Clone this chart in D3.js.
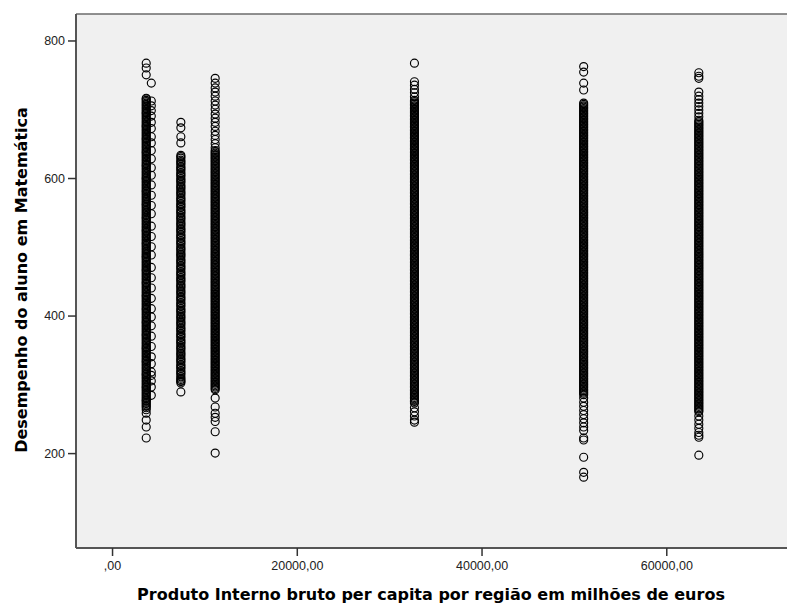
<!DOCTYPE html>
<html>
<head>
<meta charset="utf-8">
<script src="https://cdn.jsdelivr.net/npm/d3@7"></script>
<style>
  html, body { margin: 0; padding: 0; background: #ffffff; }
  svg { display: block; }
</style>
</head>
<body>
<svg id="chart" width="787" height="608"></svg>
<script>
// ---------- DATA ----------
const xTickValues = [0, 20000, 40000, 60000];
const xTickLabels = [",00", "20000,00", "40000,00", "60000,00"];
const yTickValues = [200, 400, 600, 800];
const yTickLabels = ["200", "400", "600", "800"];

const xTitle = "Produto Interno bruto per capita por região em milhões de euros";
const yTitle = "Desempenho do aluno em Matemática";

// Maths scores observed in each regional group (y values)
const scoresRegion1 = [767,760,750,716,713,709,705,701,697,694,690,686,682,678,675,671,667,663,659,656,652,648,644,640,637,633,629,625,621,618,614,610,606,602,599,595,591,587,583,580,576,572,568,564,561,557,553,549,545,542,538,534,530,526,523,519,515,511,507,504,500,496,492,488,485,481,477,473,469,466,462,458,454,450,447,443,439,435,431,428,424,420,416,412,409,405,401,397,393,390,386,382,378,374,371,367,363,359,355,352,348,344,340,336,333,329,325,321,317,314,310,306,302,298,295,291,287,283,279,276,272,268,263,258,248,238,222];
const scoresRegion1b = [715,711,707,703,699,695,692,688,684,680,676,673,669,665,661,657,654,650,646,642,638,635,631,627,623,619,616,612,608,604,600,597,593,589,585,581,578,574,570,566,562,559,555,551,547,543,540,536,532,528,524,521,517,513,509,505,502,498,494,490,486,483,479,475,471,467,464,460,456,452,448,445,441,437,433,429,426,422,418,414,410,407,403,399,395,391,388,384,380,376,372,369,365,361,357,353,350,346,342,338,334,331,327,323,319,315,312,308,304,300,296,293,289,285,281,277,274,270,266];
const scoresRegion2 = [738,712,705,698,690,681,672,660,651,640,628,615,604,590,575,560,548,530,515,500,488,470,455,440,425,410,398,385,370,355,340,330,318,313,305,296,284];
const scoresRegion3 = [681,673,660,651,633,629,624,620,615,611,606,602,597,593,588,584,579,575,570,566,561,557,552,548,543,539,534,530,525,521,516,512,507,503,498,494,489,485,480,476,471,467,462,458,453,449,444,440,435,431,426,422,417,413,408,404,399,395,390,386,381,377,372,368,363,359,354,350,345,341,336,332,327,323,318,314,309,305,302,289];
const scoresRegion3b = [631,626,622,617,613,608,604,599,595,590,586,581,577,572,568,563,559,554,550,545,541,536,532,527,523,518,514,509,505,500,496,491,487,482,478,473,469,464,460,455,451,446,442,437,433,428,424,419,415,410,406,401,397,392,388,383,379,374,370,365,361,356,352,347,343,338,334,329,325,320,316,311,307,304];
const scoresRegion4 = [745,738,731,725,719,712,706,700,693,687,681,675,668,662,656,650,644,640,636,632,628,624,620,616,612,608,604,600,596,592,588,584,580,576,572,568,564,560,556,552,548,544,540,536,532,528,524,520,516,512,508,504,500,496,492,488,484,480,476,472,468,464,460,456,452,448,444,440,436,432,428,424,420,416,412,408,404,400,396,392,388,384,380,376,372,368,364,360,356,352,348,344,340,336,332,328,324,320,316,312,308,304,300,296,292,280,267,258,252,246,231,200];
const scoresRegion4b = [638,634,630,626,622,618,614,610,606,602,598,594,590,586,582,578,574,570,566,562,558,554,550,546,542,538,534,530,526,522,518,514,510,506,502,498,494,490,486,482,478,474,470,466,462,458,454,450,446,442,438,434,430,426,422,418,414,410,406,402,398,394,390,386,382,378,374,370,366,362,358,354,350,346,342,338,334,330,326,322,318,314,310,306,302,298,294];
const scoresRegion5 = [767,740,735,729,724,718,713,709,705,701,697,693,689,685,681,677,673,669,665,661,657,653,649,645,641,637,633,629,625,621,617,613,609,605,601,597,593,589,585,581,577,573,569,565,561,557,553,549,545,541,537,533,529,525,521,517,513,509,505,501,497,493,489,485,481,477,473,469,465,461,457,453,449,445,441,437,433,429,425,421,417,413,409,405,401,397,393,389,385,381,377,373,369,365,361,357,353,349,345,341,337,333,329,325,321,317,313,309,305,301,297,293,289,285,281,277,273,266,260,254,248,245];
const scoresRegion5b = [711,707,703,699,695,691,687,683,679,675,671,667,663,659,655,651,647,643,639,635,631,627,623,619,615,611,607,603,599,595,591,587,583,579,575,571,567,563,559,555,551,547,543,539,535,531,527,523,519,515,511,507,503,499,495,491,487,483,479,475,471,467,463,459,455,451,447,443,439,435,431,427,423,419,415,411,407,403,399,395,391,387,383,379,375,371,367,363,359,355,351,347,343,339,335,331,327,323,319,315,311,307,303,299,295,291,287,283,279,275];
const scoresRegion6 = [762,754,738,728,709,705,701,697,693,689,685,681,677,673,669,665,661,657,653,649,645,641,637,633,629,625,621,617,613,609,605,601,597,593,589,585,581,577,573,569,565,561,557,553,549,545,541,537,533,529,525,521,517,513,509,505,501,497,493,489,485,481,477,473,469,465,461,457,453,449,445,441,437,433,429,425,421,417,413,409,405,401,397,393,389,385,381,377,373,369,365,361,357,353,349,345,341,337,333,329,325,321,317,313,309,305,301,297,293,289,285,280,274,268,262,256,250,244,238,233,222,219,194,172,165];
const scoresRegion6b = [707,703,699,695,691,687,683,679,675,671,667,663,659,655,651,647,643,639,635,631,627,623,619,615,611,607,603,599,595,591,587,583,579,575,571,567,563,559,555,551,547,543,539,535,531,527,523,519,515,511,507,503,499,495,491,487,483,479,475,471,467,463,459,455,451,447,443,439,435,431,427,423,419,415,411,407,403,399,395,391,387,383,379,375,371,367,363,359,355,351,347,343,339,335,331,327,323,319,315,311,307,303,299,295,291,287];
const scoresRegion7 = [753,748,745,725,719,714,709,704,699,694,689,684,680,676,672,668,664,660,656,652,648,644,640,636,632,628,624,620,616,612,608,604,600,596,592,588,584,580,576,572,568,564,560,556,552,548,544,540,536,532,528,524,520,516,512,508,504,500,496,492,488,484,480,476,472,468,464,460,456,452,448,444,440,436,432,428,424,420,416,412,408,404,400,396,392,388,384,380,376,372,368,364,360,356,352,348,344,340,336,332,328,324,320,316,312,308,304,300,296,292,288,284,280,276,272,268,264,260,254,248,242,236,230,226,223,197];
const scoresRegion7b = [682,678,674,670,666,662,658,654,650,646,642,638,634,630,626,622,618,614,610,606,602,598,594,590,586,582,578,574,570,566,562,558,554,550,546,542,538,534,530,526,522,518,514,510,506,502,498,494,490,486,482,478,474,470,466,462,458,454,450,446,442,438,434,430,426,422,418,414,410,406,402,398,394,390,386,382,378,374,370,366,362,358,354,350,346,342,338,334,330,326,322,318,314,310,306,302,298,294,290,286,282,278,274,270,266,262];

// GDP per capita of each group (x position of each column), aligned with scoreGroups
const regionGDP = [3700, 3700, 4250, 7450, 7450, 11165, 11165, 32737, 32737, 51057, 51057, 63523, 63523];
const scoreGroups = [scoresRegion1, scoresRegion1b, scoresRegion2, scoresRegion3, scoresRegion3b,
                     scoresRegion4, scoresRegion4b, scoresRegion5, scoresRegion5b,
                     scoresRegion6, scoresRegion6b, scoresRegion7, scoresRegion7b];

// ---------- BUILD POINT TABLE ----------
const points = [];
scoreGroups.forEach((scores, i) => {
  scores.forEach(s => points.push({ gdp: regionGDP[i], score: s }));
});

// ---------- LAYOUT ----------
const svg = d3.select("#chart");
const plot = { left: 76, top: 14, right: 800, bottom: 548 };

const x = d3.scaleLinear().domain([-3902, 74476]).range([plot.left, plot.right]);
const y = d3.scaleLinear().domain([62, 838.5]).range([plot.bottom, plot.top]);

svg.append("rect")
  .attr("x", plot.left).attr("y", plot.top)
  .attr("width", plot.right - plot.left).attr("height", plot.bottom - plot.top)
  .attr("fill", "#f0f0f0");

svg.append("defs").append("clipPath").attr("id", "clip")
  .append("rect")
  .attr("x", plot.left).attr("y", plot.top)
  .attr("width", plot.right - plot.left).attr("height", plot.bottom - plot.top);

svg.append("g").attr("clip-path", "url(#clip)")
  .selectAll("circle").data(points).join("circle")
  .attr("cx", d => x(d.gdp))
  .attr("cy", d => y(d.score))
  .attr("r", 4)
  .attr("fill", "none")
  .attr("stroke", "#000")
  .attr("stroke-width", 1.15);

svg.append("line")
  .attr("x1", plot.left).attr("x2", plot.right)
  .attr("y1", plot.top).attr("y2", plot.top)
  .attr("stroke", "#6b6b6b").attr("stroke-width", 1.5);

const xAxis = d3.axisBottom(x).tickValues(xTickValues)
  .tickFormat((d, i) => xTickLabels[i]).tickSize(8).tickSizeOuter(0);
const yAxis = d3.axisLeft(y).tickValues(yTickValues)
  .tickFormat((d, i) => yTickLabels[i]).tickSize(8).tickSizeOuter(0);

const gx = svg.append("g").attr("transform", `translate(0,${plot.bottom})`).call(xAxis);
const gy = svg.append("g").attr("transform", `translate(${plot.left},0)`).call(yAxis);

[gx, gy].forEach(g => {
  g.select(".domain").attr("stroke", "#555").attr("stroke-width", 2);
  g.selectAll(".tick line").attr("stroke", "#333").attr("stroke-width", 1.5);
  g.selectAll(".tick text")
    .attr("fill", "#222")
    .style("font-family", "'Liberation Sans', Arial, sans-serif")
    .style("font-size", "12.5px");
});
gx.select(".domain").attr("d", `M${plot.left},0H${plot.right}`);
gy.select(".domain").attr("d", `M0,${plot.top}V${plot.bottom}`);
gx.selectAll(".tick text").attr("dy", "0.71em").attr("y", 13);
gy.selectAll(".tick text").attr("x", -11);

svg.append("text")
  .attr("x", 431).attr("y", 600)
  .attr("text-anchor", "middle")
  .style("font-family", "'DejaVu Sans', sans-serif")
  .style("font-weight", "bold")
  .style("font-size", "16px")
  .attr("fill", "#000")
  .text(xTitle);

svg.append("text")
  .attr("transform", "translate(27,280) rotate(-90)")
  .attr("text-anchor", "middle")
  .style("font-family", "'DejaVu Sans', sans-serif")
  .style("font-weight", "bold")
  .style("font-size", "16px")
  .attr("fill", "#000")
  .text(yTitle);
</script>
</body>
</html>
